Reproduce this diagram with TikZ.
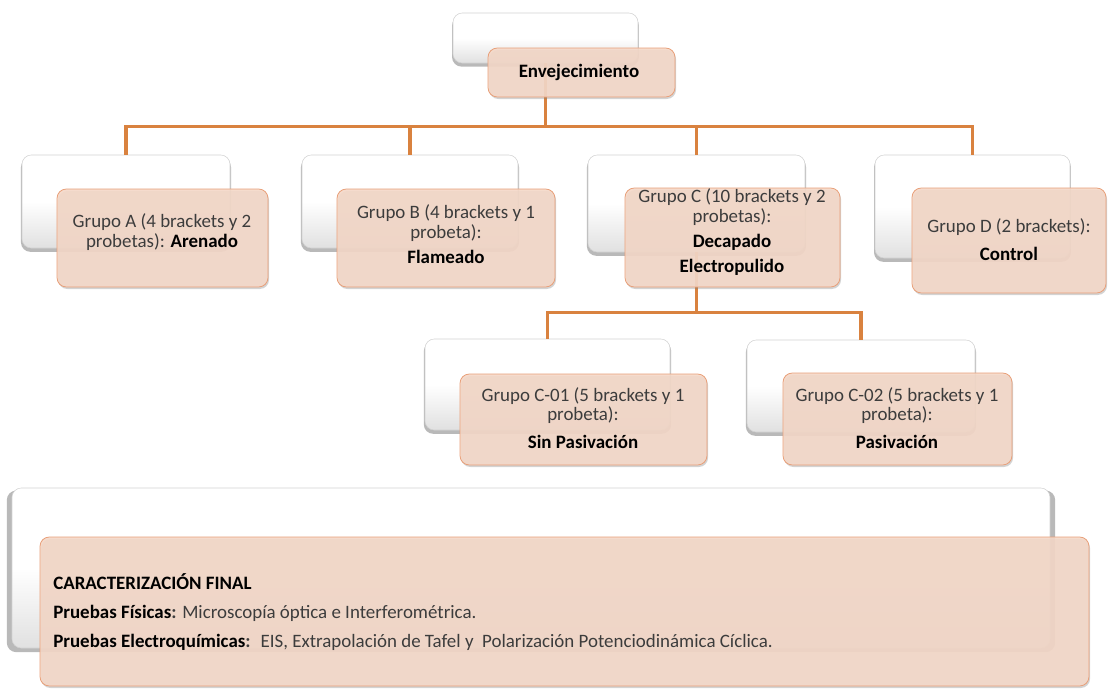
\documentclass[tikz,border=0pt]{standalone}
\usepackage{fontspec}
\setmainfont{Carlito}
\usetikzlibrary{fit,shadows}
\definecolor{linec}{HTML}{D9823F}
\definecolor{ofill}{HTML}{F4D8C8}
\definecolor{odraw}{HTML}{E8A07A}
\definecolor{txt}{HTML}{3C3C3C}
\begin{document}
\begin{tikzpicture}[x=0.75pt,y=-0.75pt,
  wbox/.style={inner sep=0pt, rounded corners=7pt, draw=gray!35, line width=0.4pt,
    top color=white, bottom color=gray!24, middle color=white,
    drop shadow={shadow xshift=0pt, shadow yshift=-2.5pt, shadow scale=1.01, fill=gray, opacity=0.55}},
  obox/.style={inner sep=0pt, rounded corners=7pt, draw=odraw, line width=0.6pt,
    fill=ofill, fill opacity=0.9,
    drop shadow={shadow xshift=0.8pt, shadow yshift=-1.5pt, fill=gray, opacity=0.35}},
  otext/.style={align=center, text=txt, inner sep=0pt, font=\fontsize{14.2pt}{14.8pt}\selectfont},
  conn/.style={draw=linec, line width=2.4pt}
]
\useasboundingbox (0,0) rectangle (1108,689);

% white back boxes
\node[wbox, fit={(453,13) (638,63)}] (wT) {};
\node[wbox, fit={(22,155) (230,248)}] (wA) {};
\node[wbox, fit={(302,155) (518,248)}] (wB) {};
\node[wbox, fit={(588,155) (805,252)}] (wC) {};
\node[wbox, fit={(875,155) (1070,258)}] (wD) {};
\node[wbox, fit={(425,339) (670,430)}] (wC1) {};
\node[wbox, fit={(747,340) (975,432)}] (wC2) {};
\node[wbox, fit={(12,488) (1050,648)}] (wF) {};

% connectors
\draw[conn] (wT.south) -- ++(0,63) -| (wA.north);
\draw[conn] (wT.south) -- ++(0,63) -| (wB.north);
\draw[conn] (wT.south) -- ++(0,63) -| (wC.north);
\draw[conn] (wT.south) -- ++(0,63) -| (wD.north);
\draw[conn] (wC.south) -- ++(0,60) -| (wC1.north);
\draw[conn] (wC.south) -- ++(0,60) -| (wC2.north);

% orange front boxes
\node[obox, fit={(488,48) (675,97)}] (env) {};
\node[otext, text=black] (tE) at (579,72) {\textbf{Envejecimiento}};
\node[obox, fit={(57,189) (268,287)}] (gA) {};
\node[otext] (tA) at (162,232)
  {Grupo A (4 brackets y 2\\probetas): \textcolor{black}{\textbf{Arenado}}};
\node[obox, fit={(337,189) (555,287)}] (gB) {};
\node[otext] (tB) at (446,234)
  {Grupo B (4 brackets y 1\\probeta):\\[4pt]\textcolor{black}{\textbf{Flameado}}};
\node[obox, fit={(625,188) (840,287)}] (gC) {};
\node[otext] (tC) at (732,232)
  {Grupo C (10 brackets y 2\\probetas):\\[4.5pt]\textcolor{black}{\textbf{Decapado}}\\[3.5pt]\textcolor{black}{\textbf{Electropulido}}};
\node[obox, fit={(912,188) (1106,293)}] (gD) {};
\node[otext] (tD) at (1009,240)
  {Grupo D (2 brackets):\\[6pt]\textcolor{black}{\textbf{Control}}};
\node[obox, fit={(460,374) (707,465)}] (gC1) {};
\node[otext] (tC1) at (583,418)
  {Grupo C-01 (5 brackets y 1\\probeta):\\[6pt]\textcolor{black}{\textbf{Sin Pasivación}}};
\node[obox, fit={(783,373) (1012,465)}] (gC2) {};
\node[otext] (tC2) at (897,418)
  {Grupo C-02 (5 brackets y 1\\probeta):\\[6pt]\textcolor{black}{\textbf{Pasivación}}};
\node[obox, fit={(40,537) (1089,686)}] (gF) {};
\node[anchor=west, align=left, text=txt, inner sep=0pt, font=\fontsize{14.2pt}{22pt}\selectfont] (tF) at (53,612)
  {\textcolor{black}{\textbf{CARACTERIZACIÓN FINAL}}\\
   \textcolor{black}{\textbf{Pruebas Físicas}}\textbf{:} Microscopía óptica e Interferométrica.\\
   \textcolor{black}{\textbf{Pruebas Electroquímicas}}\textbf{:}~ EIS, Extrapolación de Tafel y~ Polarización Potenciodinámica Cíclica.};
\end{tikzpicture}
\end{document}
